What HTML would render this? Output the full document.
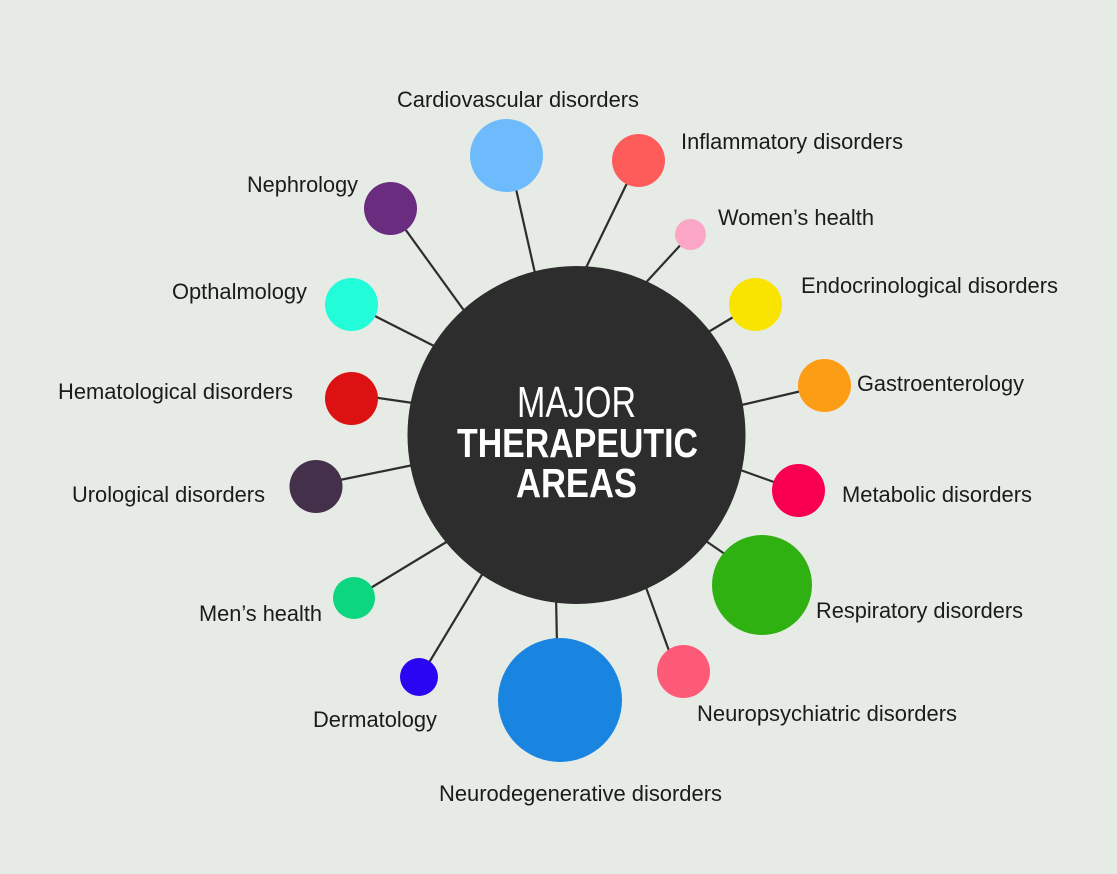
<!DOCTYPE html>
<html>
<head>
<meta charset="utf-8">
<style>
  html, body { margin:0; padding:0; background:#e7ebe6; }
  svg { display:block; }
  .lbl { font-family:"Liberation Sans", Arial, sans-serif; font-size:22px; fill:#1b1b1b; }
  .ttl { font-family:"Liberation Sans", Arial, sans-serif; fill:#ffffff; }
</style>
</head>
<body>
<svg width="1117" height="874" viewBox="0 0 1117 874" xmlns="http://www.w3.org/2000/svg">
  <rect x="0" y="0" width="1117" height="874" fill="#e7ebe6"/>

  <!-- connectors -->
  <g stroke="#2d2d2d" stroke-width="2.2" fill="none">
    <line x1="514" y1="180" x2="537" y2="282"/>
    <line x1="630" y1="177" x2="582" y2="276"/>
    <line x1="400" y1="222" x2="468" y2="316"/>
    <line x1="686" y1="239" x2="640" y2="289"/>
    <line x1="740" y1="313" x2="700" y2="337"/>
    <line x1="810" y1="389" x2="733" y2="407"/>
    <line x1="785" y1="486" x2="732" y2="467"/>
    <line x1="735" y1="561" x2="700" y2="537"/>
    <line x1="672" y1="659" x2="644" y2="582"/>
    <line x1="557" y1="645" x2="556" y2="595"/>
    <line x1="424" y1="671" x2="486" y2="568"/>
    <line x1="364" y1="592" x2="453" y2="538"/>
    <line x1="330" y1="482" x2="418" y2="464"/>
    <line x1="365" y1="396" x2="420" y2="404"/>
    <line x1="365" y1="311" x2="440" y2="349"/>
  </g>

  <!-- main circle -->
  <circle cx="576.5" cy="435" r="169" fill="#2d2d2d"/>

  <!-- nodes -->
  <circle cx="506.5" cy="155.5" r="36.5" fill="#6dbbfd"/>
  <circle cx="638.5" cy="160.5" r="26.5" fill="#fe5b5b"/>
  <circle cx="390.5" cy="208.5" r="26.5" fill="#692c7f"/>
  <circle cx="690.5" cy="234.5" r="15.5" fill="#fca6c6"/>
  <circle cx="351.5" cy="304.5" r="26.5" fill="#22fcd8"/>
  <circle cx="755.5" cy="304.5" r="26.5" fill="#f8e400"/>
  <circle cx="824.5" cy="385.5" r="26.5" fill="#fd9c15"/>
  <circle cx="351.5" cy="398.5" r="26.5" fill="#dc1112"/>
  <circle cx="316" cy="486.5" r="26.5" fill="#44304a"/>
  <circle cx="798.5" cy="490.5" r="26.5" fill="#f8004f"/>
  <circle cx="762" cy="585" r="50" fill="#2fb111"/>
  <circle cx="354" cy="598" r="21" fill="#0cd67f"/>
  <circle cx="419" cy="677" r="19" fill="#2a05f2"/>
  <circle cx="560" cy="700" r="62" fill="#1a85e0"/>
  <circle cx="683.5" cy="671.5" r="26.5" fill="#fd5a78"/>

  <!-- title -->
  <text class="ttl" x="517" y="417" font-size="44" font-weight="normal" textLength="119" lengthAdjust="spacingAndGlyphs">MAJOR</text>
  <text class="ttl" x="457" y="457" font-size="41" font-weight="bold" textLength="241" lengthAdjust="spacingAndGlyphs">THERAPEUTIC</text>
  <text class="ttl" x="516" y="497" font-size="41" font-weight="bold" textLength="121" lengthAdjust="spacingAndGlyphs">AREAS</text>

  <!-- labels -->
  <text class="lbl" x="397" y="107" textLength="242" lengthAdjust="spacingAndGlyphs">Cardiovascular disorders</text>
  <text class="lbl" x="681" y="149" textLength="222" lengthAdjust="spacingAndGlyphs">Inflammatory disorders</text>
  <text class="lbl" x="247" y="192" textLength="111" lengthAdjust="spacingAndGlyphs">Nephrology</text>
  <text class="lbl" x="718" y="225" textLength="156" lengthAdjust="spacingAndGlyphs">Women’s health</text>
  <text class="lbl" x="172" y="299" textLength="135" lengthAdjust="spacingAndGlyphs">Opthalmology</text>
  <text class="lbl" x="801" y="293" textLength="257" lengthAdjust="spacingAndGlyphs">Endocrinological disorders</text>
  <text class="lbl" x="857" y="391" textLength="167" lengthAdjust="spacingAndGlyphs">Gastroenterology</text>
  <text class="lbl" x="58" y="399" textLength="235" lengthAdjust="spacingAndGlyphs">Hematological disorders</text>
  <text class="lbl" x="72" y="502" textLength="193" lengthAdjust="spacingAndGlyphs">Urological disorders</text>
  <text class="lbl" x="842" y="502" textLength="190" lengthAdjust="spacingAndGlyphs">Metabolic disorders</text>
  <text class="lbl" x="816" y="618" textLength="207" lengthAdjust="spacingAndGlyphs">Respiratory disorders</text>
  <text class="lbl" x="199" y="621" textLength="123" lengthAdjust="spacingAndGlyphs">Men’s health</text>
  <text class="lbl" x="697" y="721" textLength="260" lengthAdjust="spacingAndGlyphs">Neuropsychiatric disorders</text>
  <text class="lbl" x="313" y="727" textLength="124" lengthAdjust="spacingAndGlyphs">Dermatology</text>
  <text class="lbl" x="439" y="801" textLength="283" lengthAdjust="spacingAndGlyphs">Neurodegenerative disorders</text>
</svg>
</body>
</html>
